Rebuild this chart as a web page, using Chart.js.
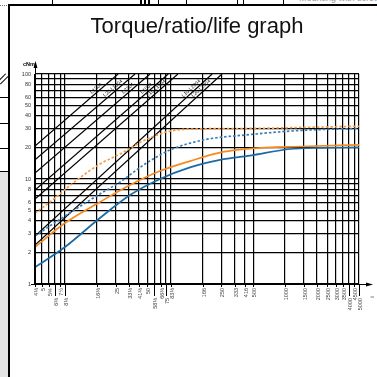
<!DOCTYPE html>
<html><head><meta charset="utf-8">
<script src="https://cdn.jsdelivr.net/npm/chart.js@4.4.1/dist/chart.umd.min.js"></script>
<style>
html,body{margin:0;padding:0;background:#fff;width:377px;height:377px;overflow:hidden;position:relative;font-family:"Liberation Sans",Arial,sans-serif}
.d{position:absolute}
#c{position:absolute;left:0;top:0}
</style></head><body>
<!-- page residue around the frame -->
<div class="d" style="left:0;top:172px;width:8px;height:205px;background:#e4e4e4"></div>
<div class="d" style="left:0;top:97px;width:8px;height:1px;background:#000"></div>
<div class="d" style="left:0;top:123px;width:8px;height:1px;background:#000"></div>
<div class="d" style="left:0;top:148px;width:8px;height:1px;background:#000"></div>
<div class="d" style="left:0;top:171px;width:8px;height:1px;background:#000"></div>
<div class="d" style="left:1px;top:72px;width:1px;height:12px;background:#000;transform:rotate(45deg)"></div>
<div class="d" style="left:4px;top:74px;width:1px;height:12px;background:#000;transform:rotate(45deg)"></div>
<div class="d" style="left:0;top:5px;width:7px;height:0;border-top:1px dotted #777"></div>
<div class="d" style="left:52px;top:0;width:1px;height:4px;background:#000"></div>
<div class="d" style="left:140px;top:0;width:2px;height:4px;background:#000"></div>
<div class="d" style="left:144px;top:0;width:2px;height:4px;background:#000"></div>
<div class="d" style="left:148px;top:0;width:2px;height:4px;background:#000"></div>
<div class="d" style="left:158px;top:0;width:1px;height:4px;background:#000"></div>
<div class="d" style="left:186px;top:0;width:1px;height:4px;background:#000"></div>
<div class="d" style="left:237px;top:0;width:1px;height:4px;background:#000"></div>
<div class="d" style="left:243px;top:0;width:1px;height:4px;background:#000"></div>
<div class="d" style="left:283px;top:0;width:1px;height:4px;background:#000"></div>
<div class="d" style="left:299px;top:-7px;font-size:9px;color:#999;white-space:nowrap">Mounting with screws</div>
<canvas id="c" width="377" height="377"></canvas>
<div class="d" style="left:8px;top:4px;width:369px;height:2px;background:#000"></div>
<div class="d" style="left:8px;top:4px;width:2px;height:373px;background:#000"></div>
<script>
// ---------- data ----------
const ratioTicks = [13/3, 5, 35/6, 20/3, 7.5, 25/3, 50/3, 25, 100/3, 125/3, 50, 175/3, 200/3, 75, 250/3,
  500/3, 250, 1000/3, 1250/3, 500, 1000, 1500, 2000, 2500, 3000, 3500, 4000, 4500, 5000];
const ratioLabels = ['4⅓','5','5⅚','6⅔','7½','8⅓','16⅔','25','33⅓','41⅔','50','58⅓','66⅔','75','83⅓',
  '166','250','333','416','500','1000','1500','2000','2500','3000','3500','4000','4500','5000'];
const lowerRowLabels = ['6⅔','8⅓','58⅓','75','4000','5000'];
const torqueGrid = [1,2,3,4,5,6,7,8,9,10,20,30,40,50,60,70,80,90,100];
const torqueLabels = [1,2,3,4,5,6,8,10,20,30,40,50,60,80,100];

// curves (ratio, torque cNm)
const orangeDotRatio  = [4.333, 6.0, 10.8, 17.8, 27.6, 47.5, 81.9, 157, 467, 1500, 5000];
const orangeDotTorque = [4.75, 6.04, 9.78, 13.9, 17.3, 23.5, 28.6, 30.0, 30.3, 31.0, 31.8];
const blueDotRatio    = [4.333, 8.32, 17.8, 27.6, 47.5, 81.9, 167.8, 467, 1385, 5000];
const blueDotTorque   = [2.87, 4.44, 7.2, 9.36, 13.9, 18.9, 23.5, 26.5, 29.0, 30.3];
const orangeRatio     = [4.333, 8.32, 17.8, 34.3, 65.8, 126.4, 259, 467, 1385, 5000];
const orangeTorque    = [2.25, 3.81, 6.04, 8.77, 11.9, 14.8, 18.1, 19.5, 20.4, 21.1];
const blueRatio       = [4.333, 8.32, 17.8, 34.3, 65.8, 126.4, 243, 467, 1114, 2140, 5000];
const blueTorque      = [1.44, 2.25, 4.25, 7.04, 10.0, 12.9, 15.2, 16.7, 19.3, 19.8, 20.0];

// life limit lines: [ratio start, ratio end], [torque start, torque end]
const lifeNames   = ['L1304','L20 L1304','L2304','L1004','L10 L1004','L10 L2004','L20 L2004'];
const lifeRatioA  = [4.333, 4.333, 4.333, 4.333, 4.333, 4.333, 4.333];
const lifeTorqueA = [20.6, 15.2, 11.4, 7.86, 6.45, 2.86, 2.35];
const lifeRatioB  = [26.4, 38.2, 52.9, 78.7, 97.2, 204.6, 253.6];
const lifeTorqueB = [100, 100, 100, 100, 100, 100, 100];

// ---------- chart ----------
const pts = (r, t) => r.map((v, i) => ({x: v, y: t[i]}));
const curve = (r, t, color, dash) => ({data: pts(r, t), borderColor: color, borderWidth: 1.7,
  borderDash: dash, pointRadius: 0, cubicInterpolationMode: 'monotone', fill: false});
const datasets = [
  curve(blueRatio, blueTorque, '#1b6aa5', []),
  curve(orangeRatio, orangeTorque, '#f58a20', []),
  curve(blueDotRatio, blueDotTorque, '#3a7db4', [2.5, 2]),
  curve(orangeDotRatio, orangeDotTorque, '#f79a45', [2.5, 2]),
];
lifeNames.forEach((n, i) => datasets.push({data: [{x: lifeRatioA[i], y: lifeTorqueA[i]}, {x: lifeRatioB[i], y: lifeTorqueB[i]}],
  borderColor: '#000', borderWidth: 1.2, pointRadius: 0, tension: 0, fill: false}));

const FONT = '"Liberation Sans", Arial, sans-serif';
const decor = {
  id: 'decor',
  afterDraw(chart) {
    const {ctx, chartArea: a, scales: {x, y}} = chart;
    ctx.save();
    ctx.strokeStyle = '#000'; ctx.fillStyle = '#000'; ctx.lineWidth = 1;
    const ax = Math.round(a.left) + 0.5, ay = Math.round(a.bottom) + 0.5;
    ctx.beginPath(); ctx.moveTo(ax, a.bottom); ctx.lineTo(ax, a.top - 8);
    ctx.moveTo(a.left - 4, ay); ctx.lineTo(a.right + 9, ay); ctx.stroke();
    ctx.beginPath(); ctx.moveTo(ax, a.top - 13); ctx.lineTo(ax - 2, a.top - 6); ctx.lineTo(ax + 2, a.top - 6); ctx.closePath(); ctx.fill();
    ctx.beginPath(); ctx.moveTo(a.right + 14, ay); ctx.lineTo(a.right + 7, ay - 2); ctx.lineTo(a.right + 7, ay + 2); ctx.closePath(); ctx.fill();
    ctx.font = '5.5px ' + FONT; ctx.fillStyle = '#444';
    ratioTicks.forEach((v, i) => {
      const px = Math.round(x.getPixelForValue(v)) + 0.5;
      const low = lowerRowLabels.includes(ratioLabels[i]);
      ctx.beginPath(); ctx.moveTo(px, a.bottom); ctx.lineTo(px, a.bottom + (low ? 12 : 3)); ctx.stroke();
      ctx.save(); ctx.translate(px + 2, a.bottom + (low ? 14 : 4)); ctx.rotate(-Math.PI / 2);
      ctx.textAlign = 'right'; ctx.textBaseline = 'alphabetic'; ctx.fillText(ratioLabels[i], 0, 0); ctx.restore();
    });
    ctx.fillStyle = '#333'; ctx.textAlign = 'right'; ctx.textBaseline = 'middle';
    torqueLabels.forEach(v => ctx.fillText(String(v), a.left - 4, y.getPixelForValue(v)));
    ctx.font = 'bold 5.5px ' + FONT; ctx.fillStyle = '#000'; ctx.textAlign = 'center';
    ctx.fillText('cNm', a.left - 6, a.top - 10);
    ctx.save(); ctx.translate(a.right + 14, a.bottom + 13); ctx.rotate(-Math.PI / 2);
    ctx.font = '5px ' + FONT; ctx.fillText('i', 0, 0); ctx.restore();
    ctx.font = '5px ' + FONT; ctx.fillStyle = '#111';
    lifeNames.forEach((n, i) => {
      const p1 = {x: x.getPixelForValue(lifeRatioA[i]), y: y.getPixelForValue(lifeTorqueA[i])};
      const p2 = {x: x.getPixelForValue(lifeRatioB[i]), y: y.getPixelForValue(lifeTorqueB[i])};
      const ang = Math.atan2(p2.y - p1.y, p2.x - p1.x);
      const f = 17 / (p1.y - p2.y);
      const cx = p2.x + (p1.x - p2.x) * f, cy = p2.y + (p1.y - p2.y) * f;
      ctx.save(); ctx.translate(cx, cy); ctx.rotate(ang);
      ctx.textAlign = 'center'; ctx.textBaseline = 'bottom'; ctx.fillText(n, 0, -1); ctx.restore();
    });
    ctx.restore();
  }
};

new Chart(document.getElementById('c'), {
  type: 'line',
  data: {datasets},
  plugins: [decor],
  options: {
    responsive: false, animation: false, devicePixelRatio: 1,
    layout: {padding: {left: 35, right: 18, top: 0, bottom: 93}},
    plugins: {
      legend: {display: false}, tooltip: {enabled: false},
      title: {display: true, text: 'Torque/ratio/life graph', color: '#111',
        font: {family: FONT, size: 22, weight: 'normal'}, padding: {top: 14, bottom: 33.6}}
    },
    scales: {
      x: {type: 'logarithmic', min: 13/3, max: 5000,
        afterBuildTicks: s => { s.ticks = ratioTicks.map(v => ({value: v})); },
        ticks: {display: false}, grid: {color: '#000', lineWidth: 1.2, drawTicks: false},
        border: {display: true, color: '#000', width: 1}},
      y: {type: 'logarithmic', min: 1, max: 100,
        afterBuildTicks: s => { s.ticks = torqueGrid.map(v => ({value: v})); },
        ticks: {display: false}, grid: {color: '#000', lineWidth: 1.2, drawTicks: false},
        border: {display: true, color: '#000', width: 1}}
    }
  }
});
</script>
</body></html>
